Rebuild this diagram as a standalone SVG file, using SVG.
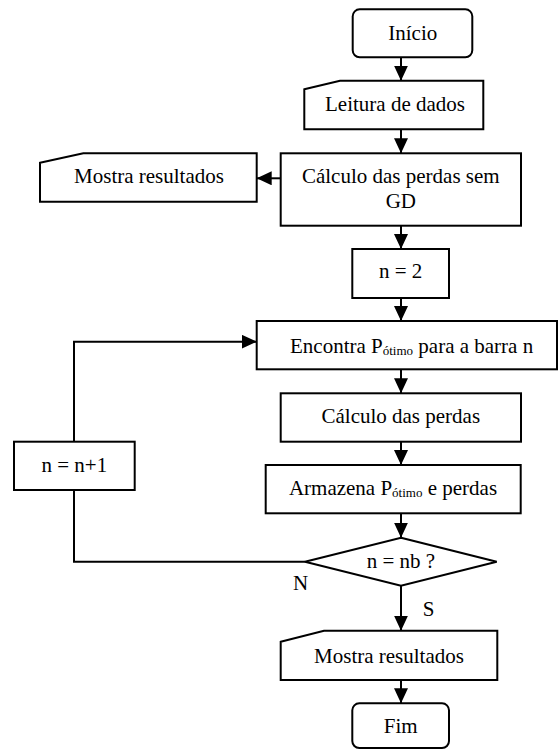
<svg xmlns="http://www.w3.org/2000/svg" width="558" height="749" viewBox="0 0 558 749">
<style>
.shape{fill:#fff;stroke:#000;stroke-width:2}
.conn{fill:none;stroke:#000;stroke-width:2}
.t{font-family:'Liberation Serif','DejaVu Serif',serif;font-size:21px;fill:#000}
.c{text-anchor:middle}
.sub{font-size:13px}
</style>
<defs>
<marker id="arr" markerUnits="userSpaceOnUse" markerWidth="16" markerHeight="14" refX="15" refY="7" orient="auto" viewBox="0 0 16 14">
<path d="M0,0 L15,7 L0,14 z" fill="#000"/>
</marker>
</defs>
<rect width="558" height="749" fill="#fff"/>
<g font-family="Liberation Serif, DejaVu Serif, serif" font-size="21">
<g id="connectors">
<path class="conn" d="M401,57.3 V80.7" marker-end="url(#arr)"/>
<path class="conn" d="M401,129.3 V153.3" marker-end="url(#arr)"/>
<path class="conn" d="M280.7,178.3 H256.7" marker-end="url(#arr)"/>
<path class="conn" d="M401,225.7 V249" marker-end="url(#arr)"/>
<path class="conn" d="M401,298 V321" marker-end="url(#arr)"/>
<path class="conn" d="M401,369.3 V393.3" marker-end="url(#arr)"/>
<path class="conn" d="M401,441.7 V465" marker-end="url(#arr)"/>
<path class="conn" d="M401,513.3 V537.7" marker-end="url(#arr)"/>
<path class="conn" d="M305,561.7 H74 V490"/>
<path class="conn" d="M74,441.7 V341.7 H256.7" marker-end="url(#arr)"/>
<path class="conn" d="M401,585.7 V630.7" marker-end="url(#arr)"/>
<path class="conn" d="M401,680 V703.3" marker-end="url(#arr)"/>
<text x="300.5" y="590" class="t c">N</text>
<text x="428.5" y="615.7" class="t c">S</text>
</g>
<g id="inicio">
<rect class="shape" x="352.7" y="9.3" width="119.6" height="48" rx="7"/>
<text x="412.8" y="40" class="t c">Início</text>
</g>
<g id="leitura">
<path class="shape" d="M304.3,89.3 L340,80.7 H483.3 V129.3 H304.3 Z"/>
<text x="395" y="111" class="t c">Leitura de dados</text>
</g>
<g id="mostra1">
<path class="shape" d="M40,162.7 L83.3,153.3 H256.7 V201.7 H40 Z"/>
<text x="149" y="182.7" class="t c">Mostra resultados</text>
</g>
<g id="calculo-sem-gd">
<rect class="shape" x="280.7" y="153.3" width="240.3" height="72.4"/>
<text x="400.8" y="183.3" class="t c">Cálculo das perdas sem</text>
<text x="400.8" y="208.3" class="t c">GD</text>
</g>
<g id="n2">
<rect class="shape" x="352.3" y="249" width="96.7" height="49"/>
<text x="400.7" y="278.3" class="t c">n = 2</text>
</g>
<g id="encontra">
<rect class="shape" x="256.7" y="321" width="300.3" height="48.3"/>
<text x="290" y="353.3" class="t">Encontra P<tspan class="sub" dy="2">ótimo</tspan><tspan dy="-2"> para a barra n</tspan></text>
</g>
<g id="calculo-perdas">
<rect class="shape" x="280.7" y="393.3" width="240.3" height="48.4"/>
<text x="400.8" y="423.3" class="t c">Cálculo das perdas</text>
</g>
<g id="armazena">
<rect class="shape" x="265.7" y="465" width="255" height="48.3"/>
<text x="393" y="495" class="t c">Armazena P<tspan class="sub" dy="2">ótimo</tspan><tspan dy="-2"> e perdas</tspan></text>
</g>
<g id="nmais1">
<rect class="shape" x="14" y="441.7" width="120.7" height="48.3"/>
<text x="74.3" y="471.7" class="t c">n = n+1</text>
</g>
<g id="decisao">
<path class="shape" d="M401,537.7 L496.7,561.7 L401,585.7 L305,561.7 Z"/>
<text x="401" y="567.7" class="t c">n = nb ?</text>
</g>
<g id="mostra2">
<path class="shape" d="M280.7,641.7 L324,630.7 H497.3 V680 H280.7 Z"/>
<text x="389" y="662.7" class="t c">Mostra resultados</text>
</g>
<g id="fim">
<rect class="shape" x="352.3" y="703.3" width="96.7" height="44.7" rx="7"/>
<text x="400.7" y="733.3" class="t c">Fim</text>
</g>
</g>
</svg>
